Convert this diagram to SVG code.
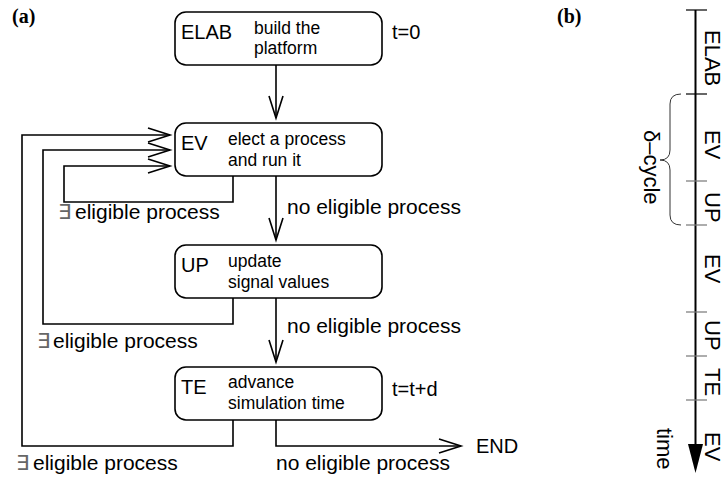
<svg xmlns="http://www.w3.org/2000/svg" width="724" height="479" viewBox="0 0 724 479">
<style>
.box{fill:#fff;stroke:#000;stroke-width:1.6}
.big{font-family:"Liberation Sans",Arial,sans-serif;font-size:20px;fill:#000}
.small{font-family:"Liberation Sans",Arial,sans-serif;font-size:17.5px;fill:#000}
.lbl{font-family:"Liberation Sans",Arial,sans-serif;font-size:21px;fill:#000}
.ex{font-family:"DejaVu Sans",sans-serif;font-size:21px;fill:#666}
.cap{font-family:"Liberation Serif","Times New Roman",serif;font-size:20px;font-weight:bold;fill:#000}
.con{fill:none;stroke:#000;stroke-width:1.6}
.tl{font-family:"Liberation Sans",Arial,sans-serif;font-size:22px;fill:#000}
.tick{stroke:#777;stroke-width:1.2}
</style>
<defs>
<marker id="open" viewBox="0 0 24 16" markerWidth="24" markerHeight="16" refX="22" refY="8" orient="auto" markerUnits="userSpaceOnUse" overflow="visible">
<path d="M0,1 L22,8 L0,15" fill="none" stroke="#000" stroke-width="1.6"/>
</marker>
</defs>
<rect width="724" height="479" fill="#fff"/>
<text class="cap" x="12" y="23">(a)</text>
<text class="cap" x="557" y="23">(b)</text>
<g id="connectors">
<path class="con" d="M276,65 V118" marker-end="url(#open)"/>
<path class="con" d="M276,176 V240" marker-end="url(#open)"/>
<path class="con" d="M276,298 V362" marker-end="url(#open)"/>
<path class="con" d="M276,420 V446 H461" marker-end="url(#open)"/>
<path class="con" d="M233,176 V202 H64 V166 H170" marker-end="url(#open)"/>
<path class="con" d="M233,298 V324 H43 V150 H170" marker-end="url(#open)"/>
<path class="con" d="M233,420 V446 H22 V135 H170" marker-end="url(#open)"/>
<text class="ex" x="58" y="219">∃</text><text class="lbl" x="75" y="219">eligible process</text>
<text class="lbl" x="287" y="214">no eligible process</text>
<text class="ex" x="37" y="348">∃</text><text class="lbl" x="53" y="348">eligible process</text>
<text class="lbl" x="287" y="333">no eligible process</text>
<text class="ex" x="16" y="470">∃</text><text class="lbl" x="33" y="470">eligible process</text>
<text class="lbl" x="276" y="470">no eligible process</text>
<text class="big" x="476" y="453">END</text>
</g>
<g id="node-elab">
<rect class="box" x="175" y="12" width="207" height="53" rx="11"/>
<text class="big" x="181" y="39">ELAB</text>
<text class="small" x="254" y="34">build the</text>
<text class="small" x="254" y="54">platform</text>
<text class="big" x="392" y="39">t=0</text>
</g>
<g id="node-ev">
<rect class="box" x="175" y="123" width="207" height="53" rx="11"/>
<text class="big" x="181" y="150">EV</text>
<text class="small" x="228" y="145">elect a process</text>
<text class="small" x="228" y="166">and run it</text>
</g>
<g id="node-up">
<rect class="box" x="175" y="245" width="207" height="53" rx="11"/>
<text class="big" x="181" y="272">UP</text>
<text class="small" x="228" y="267">update</text>
<text class="small" x="228" y="288">signal values</text>
</g>
<g id="node-te">
<rect class="box" x="175" y="367" width="207" height="53" rx="11"/>
<text class="big" x="181" y="394">TE</text>
<text class="small" x="228" y="388">advance</text>
<text class="small" x="228" y="409">simulation time</text>
<text class="big" x="392" y="396">t=t+d</text>
</g>
<g id="timeline">
<line x1="695.5" y1="10" x2="695.5" y2="446" stroke="#000" stroke-width="2"/>
<path d="M688,444 L703,444 L695.5,473 Z" fill="#000"/>
<line x1="686" y1="10" x2="707" y2="10" stroke="#000" stroke-width="1.2"/>
<line x1="686" y1="94" x2="707" y2="94" stroke="#000" stroke-width="1.2"/>
<line class="tick" x1="686" y1="181" x2="707" y2="181"/>
<line class="tick" x1="686" y1="225" x2="707" y2="225"/>
<line class="tick" x1="686" y1="312" x2="707" y2="312"/>
<line class="tick" x1="686" y1="356" x2="707" y2="356"/>
<line class="tick" x1="686" y1="400" x2="707" y2="400"/>
<text class="tl" transform="translate(705,30) rotate(90)">ELAB</text>
<text class="tl" transform="translate(705,130) rotate(90)">EV</text>
<text class="tl" transform="translate(705,192) rotate(90)">UP</text>
<text class="tl" transform="translate(705,254) rotate(90)">EV</text>
<text class="tl" transform="translate(705,320) rotate(90)">UP</text>
<text class="tl" transform="translate(705,368) rotate(90)">TE</text>
<text class="tl" transform="translate(705,432) rotate(90)">EV</text>
<path d="M681,94 Q670,94 670,104 V150 Q670,160 660,160 Q670,160 670,170 V215 Q670,225 681,225" fill="none" stroke="#333" stroke-width="1"/>
<text class="tl" transform="translate(644,130) rotate(90)">δ–cycle</text>
<text class="tl" transform="translate(657,428) rotate(90)">time</text>
</g>
</svg>
